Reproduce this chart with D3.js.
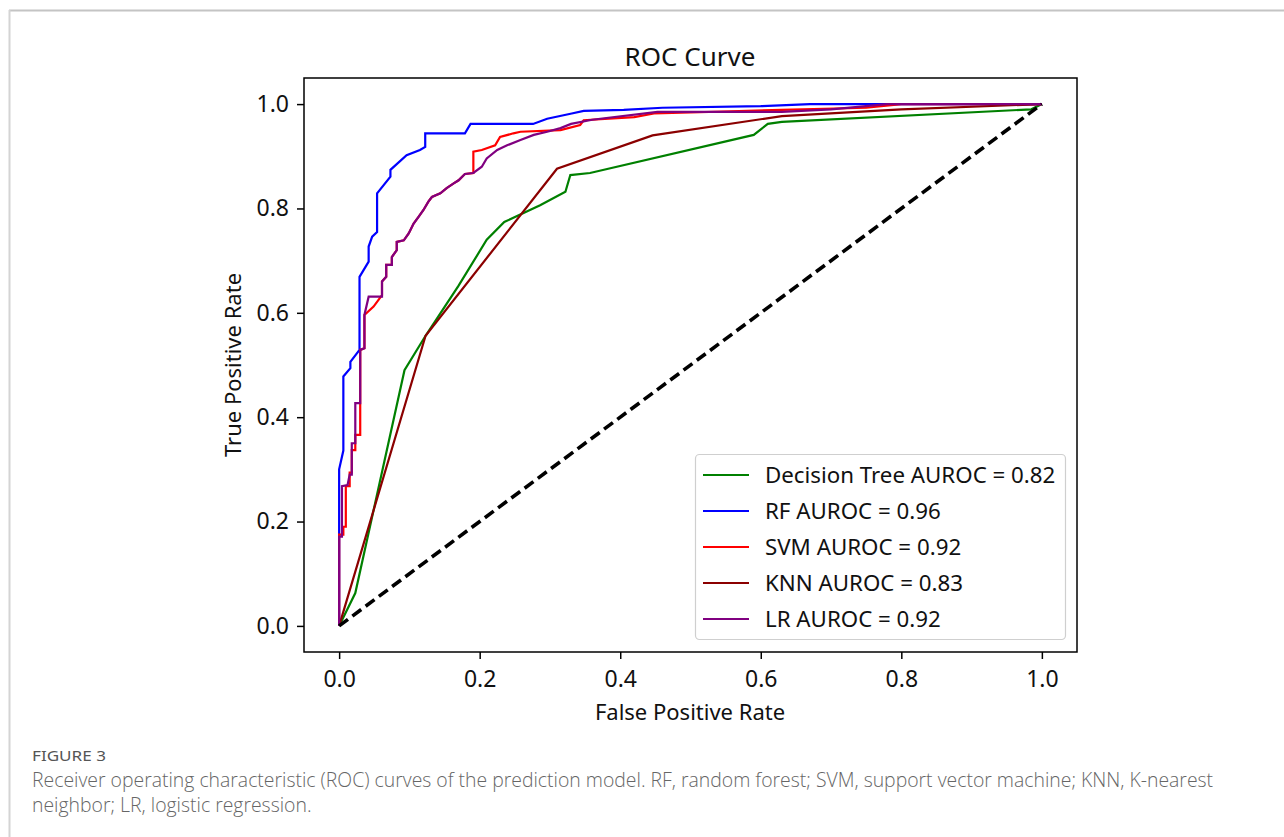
<!DOCTYPE html>
<html>
<head>
<meta charset="utf-8">
<script src="https://cdn.jsdelivr.net/npm/d3@7"></script>
<style>
  html, body { margin: 0; padding: 0; background: #fff; }
  svg { display: block; }
</style>
</head>
<body>
<svg id="chart" width="1284" height="837"></svg>
<script>
// ---------------- DATA ----------------
const models = ["Decision Tree", "RF", "SVM", "KNN", "LR"];
const aurocs = [0.82, 0.96, 0.92, 0.83, 0.92];
const colors = ["#008000", "#0000ff", "#ff0000", "#8b0000", "#800080"];
const xTicks = [0.0, 0.2, 0.4, 0.6, 0.8, 1.0];
const yTicks = [0.0, 0.2, 0.4, 0.6, 0.8, 1.0];

const dtPoints = [[0,0],[0.023,0.063],[0.093,0.49],[0.123,0.556],[0.17,0.652],[0.21,0.74],[0.235,0.774],
  [0.286,0.806],[0.322,0.832],[0.329,0.864],[0.357,0.868],[0.59,0.941],[0.61,0.962],[0.63,0.966],[0.985,0.99],[1,1]];

const rfPoints = [[0,0],[0,0.178],[0,0.30],[0.006,0.336],[0.006,0.478],[0.016,0.494],[0.016,0.506],[0.029,0.529],
  [0.029,0.669],[0.042,0.698],[0.042,0.727],[0.047,0.746],[0.054,0.755],[0.054,0.829],[0.073,0.861],[0.073,0.874],
  [0.096,0.902],[0.115,0.912],[0.1225,0.918],[0.1225,0.944],[0.179,0.944],[0.187,0.962],[0.276,0.962],[0.296,0.972],
  [0.331,0.982],[0.348,0.987],[0.405,0.989],[0.46,0.993],[0.6,0.996],[0.67,1.0],[1,1]];

const svmPoints = [[0,0],[0,0.175],[0.006,0.175],[0.006,0.19],[0.0095,0.19],[0.0095,0.268],[0.015,0.268],[0.015,0.294],
  [0.018,0.294],[0.018,0.337],[0.023,0.337],[0.023,0.366],[0.03,0.366],[0.03,0.529],[0.036,0.532],[0.036,0.596],
  [0.049,0.612],[0.061,0.634],[0.061,0.66],[0.067,0.669],[0.067,0.692],[0.075,0.692],[0.075,0.707],[0.082,0.72],
  [0.082,0.736],[0.092,0.739],[0.099,0.752],[0.106,0.771],[0.113,0.784],[0.12,0.797],[0.127,0.813],[0.132,0.822],
  [0.144,0.829],[0.153,0.839],[0.163,0.848],[0.17,0.854],[0.179,0.866],[0.191,0.868],[0.191,0.909],[0.203,0.912],
  [0.222,0.921],[0.229,0.937],[0.248,0.944],[0.258,0.947],[0.315,0.95],[0.343,0.96],[0.348,0.969],[0.42,0.975],
  [0.448,0.982],[0.63,0.989],[0.75,0.993],[0.8,1.0],[1,1]];

const knnPoints = [[0,0],[0.123,0.556],[0.31,0.876],[0.446,0.94],[0.63,0.977],[0.8,0.99],[1,1]];

const lrPoints = [[0,0],[0,0.171],[0.004,0.171],[0.004,0.268],[0.012,0.27],[0.015,0.29],[0.018,0.29],[0.018,0.35],
  [0.023,0.35],[0.023,0.427],[0.03,0.427],[0.03,0.529],[0.036,0.532],[0.036,0.596],[0.042,0.631],[0.061,0.631],
  [0.061,0.66],[0.067,0.669],[0.067,0.692],[0.075,0.692],[0.075,0.707],[0.082,0.72],[0.082,0.736],[0.092,0.739],
  [0.099,0.752],[0.106,0.771],[0.113,0.784],[0.12,0.797],[0.127,0.813],[0.132,0.822],[0.144,0.829],[0.153,0.839],
  [0.163,0.848],[0.17,0.854],[0.179,0.866],[0.191,0.868],[0.203,0.880],[0.21,0.896],[0.225,0.912],[0.239,0.921],
  [0.258,0.931],[0.277,0.941],[0.296,0.947],[0.315,0.954],[0.33,0.962],[0.36,0.97],[0.453,0.985],[0.63,0.985],
  [0.7,0.99],[0.78,1.0],[1,1]];

const chancePoints = [[0,0],[1,1]];
const seriesPoints = [dtPoints, rfPoints, svmPoints, knnPoints, lrPoints];

const titleText = "ROC Curve";
const xLabel = "False Positive Rate";
const yLabel = "True Positive Rate";
const figLabel = "FIGURE 3";
const captionLines = [
  "Receiver operating characteristic (ROC) curves of the prediction model. RF, random forest; SVM, support vector machine; KNN, K-nearest",
  "neighbor; LR, logistic regression."
];

// ---------------- LAYOUT ----------------
const svg = d3.select("#chart");
const FONT = "'Noto Sans', 'Open Sans', sans-serif";

// page frame
svg.append("rect").attr("x", 0).attr("y", 0).attr("width", 1284).attr("height", 837).attr("fill", "#fff");
svg.append("line").attr("x1", 9).attr("x2", 1284).attr("y1", 10.5).attr("y2", 10.5).attr("stroke", "#c4c4c4").attr("stroke-width", 2);
svg.append("line").attr("x1", 9.5).attr("x2", 9.5).attr("y1", 10).attr("y2", 837).attr("stroke", "#d4d4d4").attr("stroke-width", 2);

const plot = { left: 304, right: 1077, top: 78, bottom: 652 };
const x = d3.scaleLinear().domain([-0.05, 1.05]).range([plot.left, plot.right]);
const y = d3.scaleLinear().domain([-0.05, 1.05]).range([plot.bottom, plot.top]);

// axes
const xAxis = svg.append("g").attr("transform", `translate(0,${plot.bottom})`)
  .call(d3.axisBottom(x).tickValues(xTicks).tickFormat(d3.format(".1f")).tickSize(7).tickPadding(12));
const yAxis = svg.append("g").attr("transform", `translate(${plot.left},0)`)
  .call(d3.axisLeft(y).tickValues(yTicks).tickFormat(d3.format(".1f")).tickSize(7).tickPadding(8));
[xAxis, yAxis].forEach(a => {
  a.select(".domain").remove();
  a.selectAll(".tick line").attr("stroke", "#000").attr("stroke-width", 1.5);
  a.selectAll(".tick text").attr("fill", "#111").style("font-family", FONT).style("font-size", "23px");
});

// frame
svg.append("rect").attr("x", plot.left).attr("y", plot.top)
  .attr("width", plot.right - plot.left).attr("height", plot.bottom - plot.top)
  .attr("fill", "none").attr("stroke", "#000").attr("stroke-width", 1.5);

const line = d3.line().x(d => x(d[0])).y(d => y(d[1]));
seriesPoints.forEach((pts, i) => {
  svg.append("path").datum(pts).attr("d", line)
    .attr("fill", "none").attr("stroke", colors[i]).attr("stroke-width", 2.2)
    .attr("stroke-linejoin", "miter");
});
svg.append("path").datum(chancePoints).attr("d", line)
  .attr("fill", "none").attr("stroke", "#000").attr("stroke-width", 3.6)
  .attr("stroke-dasharray", "11,5.5");

// title and labels
svg.append("text").attr("x", 690).attr("y", 66).attr("text-anchor", "middle")
  .style("font-family", FONT).style("font-size", "26px").attr("fill", "#111").text(titleText);
svg.append("text").attr("x", 690).attr("y", 720).attr("text-anchor", "middle")
  .style("font-family", FONT).style("font-size", "22px").attr("fill", "#111").text(xLabel);
svg.append("text").attr("transform", `translate(241,${(plot.top + plot.bottom) / 2}) rotate(-90)`)
  .attr("text-anchor", "middle")
  .style("font-family", FONT).style("font-size", "22px").attr("fill", "#111").text(yLabel);

// legend
const lg = svg.append("g");
lg.append("rect").attr("x", 695.5).attr("y", 454.5).attr("width", 370).attr("height", 185).attr("rx", 4)
  .attr("fill", "#fff").attr("fill-opacity", 0.85).attr("stroke", "#cfcfcf").attr("stroke-width", 1.2);
const rowY = [475, 511, 547, 583, 619];
models.forEach((m, i) => {
  lg.append("line").attr("x1", 703).attr("x2", 749).attr("y1", rowY[i]).attr("y2", rowY[i])
    .attr("stroke", colors[i]).attr("stroke-width", 2.2);
  lg.append("text").attr("x", 765).attr("y", rowY[i] + 8).style("font-family", FONT).style("font-size", "22.3px")
    .attr("fill", "#111").text(`${m} AUROC = ${aurocs[i].toFixed(2)}`);
});

// caption
svg.append("text").attr("x", 32).attr("y", 761).style("font-family", FONT).style("font-size", "15px")
  .attr("fill", "#555").attr("textLength", 74).attr("lengthAdjust", "spacingAndGlyphs").text(figLabel);
captionLines.forEach((t, i) => {
  svg.append("text").attr("x", 32).attr("y", 787 + i * 25).style("font-family", "'Open Sans', sans-serif")
    .style("font-size", "19.4px").style("font-weight", 300).attr("fill", "#666").text(t);
});
</script>
</body>
</html>
